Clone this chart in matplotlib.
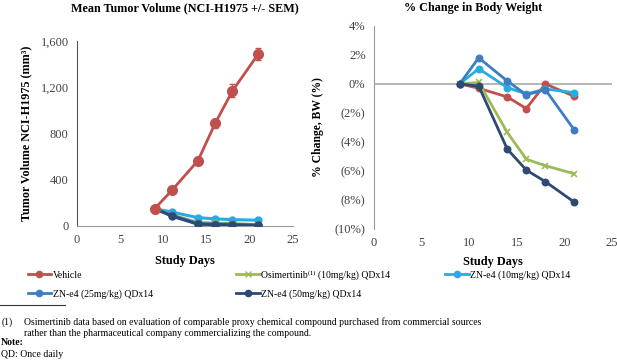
import matplotlib
matplotlib.use('Agg')
import matplotlib.pyplot as plt
from matplotlib.ticker import FuncFormatter

plt.rcParams['font.family'] = ['Liberation Serif', 'DejaVu Serif']

DAYS = [9, 11, 14, 16, 18, 21]

SERIES = ['Vehicle', 'Osimertinib\u207d\u00b9\u207e (10mg/kg) QDx14', 'ZN-e4 (10mg/kg) QDx14',
          'ZN-e4 (25mg/kg) QDx14', 'ZN-e4 (50mg/kg) QDx14']
COLORS = ['#C0504D', '#9BBB59', '#29ABE2', '#3C7DC4', '#2E4A70']

# tumor volume, mm3
vol_vehicle = [150, 310, 565, 890, 1170, 1490]
vol_vehicle_sem = [10, 18, 28, 40, 55, 55]
vol_osim = [150, 95, 30, 25, 20, 12]
vol_zn10 = [150, 120, 72, 62, 55, 50]
vol_zn25 = [150, 92, 22, 18, 14, 8]
vol_zn50 = [150, 85, 15, 12, 10, 5]

# body weight change, %
bw_vehicle = [0, -0.3, -0.9, -1.7, 0.0, -0.85]
bw_osim = [0, 0.1, -3.35, -5.2, -5.65, -6.2]
bw_zn10 = [0, 1.05, -0.25, -0.7, -0.35, -0.6]
bw_zn25 = [0, 1.8, 0.2, -0.75, -0.4, -3.15]
bw_zn50 = [0, -0.15, -4.5, -5.95, -6.75, -8.15]


def style_ax(ax):
    for s in ['top', 'right']:
        ax.spines[s].set_visible(False)
    ax.spines['left'].set_color('#555555')
    ax.spines['bottom'].set_color('#999999')
    ax.tick_params(length=0, labelsize=9, colors='#444444', pad=6)
    ax.set_xlim(0, 25)
    ax.set_xticks([0, 5, 10, 15, 20, 25])


fig = plt.figure(figsize=(6.17, 3.61), dpi=100)

# left: tumor volume
ax1 = fig.add_axes([0.1248, 0.374, 0.350, 0.512])
style_ax(ax1)
ax1.set_ylim(0, 1600)
ax1.set_yticks([0, 400, 800, 1200, 1600])
ax1.yaxis.set_major_formatter(FuncFormatter(lambda v, p: '{:,.0f}'.format(v)))
others = [(vol_zn10, COLORS[2]), (vol_osim, COLORS[1]), (vol_zn25, COLORS[3]), (vol_zn50, COLORS[4])]
for vals, c in others:
    ax1.plot(DAYS, vals, color=c, lw=2.2, marker='o', ms=5, mfc=c, mec=c, zorder=3)
ax1.errorbar(DAYS, vol_vehicle, yerr=vol_vehicle_sem, color=COLORS[0], lw=2, marker='o',
             ms=7, capsize=2.5, elinewidth=1, zorder=4)
ax1.set_ylabel('Tumor Volume NCI-H1975 (mm\u00b3)', fontsize=8.7, fontweight='bold', labelpad=6)
ax1.set_xlabel('Study Days', fontsize=8.8, fontweight='bold', labelpad=6)

# right: body weight
ax2 = fig.add_axes([0.606, 0.3665, 0.386, 0.5615])
style_ax(ax2)
ax2.spines['bottom'].set_visible(False)
ax2.spines['left'].set_color('#999999')
ax2.set_ylim(-10, 4)
ax2.set_yticks(range(-10, 5, 2))
ax2.yaxis.set_major_formatter(FuncFormatter(
    lambda v, p: '({:.0f}%)'.format(-v) if v < 0 else '{:.0f}%'.format(v)))
ax2.axhline(0, color='#AAAAAA', lw=1.2, zorder=1)
bw = [bw_vehicle, bw_osim, bw_zn10, bw_zn25, bw_zn50]
for i, vals in enumerate(bw):
    mk = 'x' if i == 1 else 'o'
    ax2.plot(DAYS, vals, color=COLORS[i], lw=2, marker=mk, ms=4.5, mew=1.2, zorder=3 + i)
ax2.set_ylabel('% Change, BW (%)', fontsize=8.4, fontweight='bold', labelpad=8)
ax2.set_xlabel('Study Days', fontsize=8.8, fontweight='bold', labelpad=5)

fig.text(0.30, 0.978, 'Mean Tumor Volume (NCI-H1975 +/- SEM)', ha='center', va='center',
         fontsize=8.7, fontweight='bold')
fig.text(0.767, 0.978, '% Change in Body Weight', ha='center', va='center',
         fontsize=8.7, fontweight='bold')

# legend entries, placed in a 3-column grid like the source
legend_pos = [(0.045, 0.238), (0.383, 0.238), (0.722, 0.238), (0.045, 0.186), (0.383, 0.186)]
for i, name in enumerate(SERIES):
    mk = 'x' if i == 1 else 'o'
    h, = ax2.plot([], [], color=COLORS[i], lw=2, marker=mk, ms=4.5, label=name)
    fig.legend(handles=[h], loc='center left', bbox_to_anchor=legend_pos[i], frameon=False,
               fontsize=7, handlelength=2.4, handletextpad=0.15,
               borderaxespad=0, borderpad=0)

# footnotes
fig.add_artist(plt.Line2D([0, 0.105], [0.155, 0.155], color='#333333', lw=0.8,
                          transform=fig.transFigure))
fig.text(0.002, 0.108, '(1)', fontsize=7, va='center')
fig.text(0.039, 0.108, 'Osimertinib data based on evaluation of comparable proxy chemical compound '
         'purchased from commercial sources', fontsize=7, va='center')
fig.text(0.039, 0.077, 'rather than the pharmaceutical company commercializing the compound.',
         fontsize=7, va='center')
fig.text(0.002, 0.050, 'Note:', fontsize=7, fontweight='bold', va='center')
fig.text(0.002, 0.017, 'QD: Once daily', fontsize=7, va='center')

fig.savefig('out.png', dpi=100)
